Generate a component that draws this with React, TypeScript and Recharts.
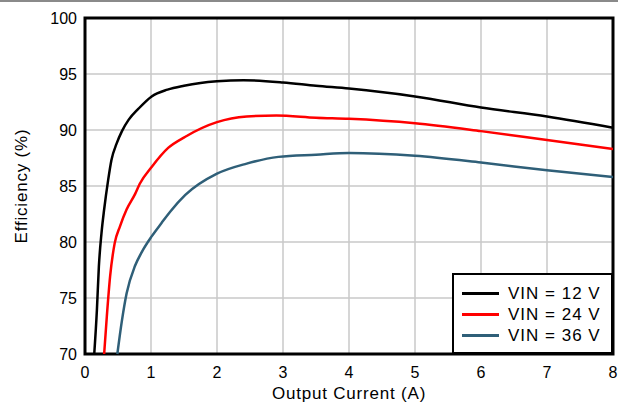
import {
  LineChart,
  Line,
  XAxis,
  YAxis,
  CartesianGrid,
  ReferenceArea,
  Legend,
} from "recharts";

const X_TICKS = [0, 1, 2, 3, 4, 5, 6, 7, 8];
const Y_TICKS = [70, 75, 80, 85, 90, 95, 100];

// VIN = 12 V
const cur12 = [0.14, 0.18, 0.21, 0.25, 0.29, 0.35, 0.4, 0.48, 0.56, 0.66, 0.81, 1.01, 1.25, 1.5, 1.75, 2.0, 2.4, 3.0, 3.5, 4, 5, 6, 7, 8];
const eff12 = [70, 73.9, 77.8, 80.8, 82.9, 85.5, 87.3, 88.8, 89.9, 90.9, 91.9, 93.0, 93.6, 93.95, 94.2, 94.35, 94.45, 94.25, 93.95, 93.7, 93.0, 92.0, 91.2, 90.2];

// VIN = 24 V
const cur24 = [0.29, 0.33, 0.38, 0.45, 0.53, 0.63, 0.76, 0.83, 1.01, 1.26, 1.52, 2.0, 2.45, 2.9, 3.5, 4, 5, 6, 7, 8];
const eff24 = [70, 73.3, 76.9, 79.9, 81.4, 82.9, 84.3, 85.2, 86.7, 88.4, 89.4, 90.7, 91.2, 91.3, 91.1, 91.0, 90.6, 89.9, 89.1, 88.3];

// VIN = 36 V
const cur36 = [0.49, 0.56, 0.63, 0.76, 0.86, 1.01, 1.16, 1.29, 1.52, 2.0, 2.45, 2.93, 3.5, 4, 5, 6, 7, 8];
const eff36 = [70, 73.0, 75.4, 77.9, 79.1, 80.5, 81.7, 82.7, 84.2, 86.1, 87.0, 87.6, 87.8, 87.95, 87.7, 87.1, 86.4, 85.8];

const SERIES = [
  { name: "VIN = 12 V", color: "#000000", x: cur12, y: eff12 },
  { name: "VIN = 24 V", color: "#ff0000", x: cur24, y: eff24 },
  { name: "VIN = 36 V", color: "#2f5f78", x: cur36, y: eff36 },
];

const FONT = "Arial, 'Liberation Sans', sans-serif";

const LegendBox = ({ payload }: any) => (
  <div
    style={{
      boxSizing: "border-box",
      width: 161,
      height: 81,
      border: "2px solid #000",
      background: "#fff",
      padding: "8px 0 0 8px",
      fontFamily: FONT,
      fontSize: 17,
      letterSpacing: 1,
      color: "#000",
    }}
  >
    {(payload || []).map((p: any) => (
      <div key={p.value} style={{ display: "flex", alignItems: "center", height: 21 }}>
        <span style={{ width: 37, height: 3, background: p.color, marginRight: 9 }} />
        <span>{p.value}</span>
      </div>
    ))}
  </div>
);

export default function App() {
  return (
    <div style={{ position: "absolute", left: 0, top: 0, width: 618, height: 403, background: "#fff" }}>
      <div style={{ position: "absolute", left: 0, top: 0, width: 618, height: 2, background: "#8a8a8a" }} />
      <LineChart
        width={618}
        height={403}
        margin={{ top: 18, right: 5, bottom: 0, left: 0 }}
        style={{ fontFamily: FONT }}
      >
        <CartesianGrid stroke="#c8c8c8" strokeWidth={1.5} />
        <XAxis
          type="number"
          dataKey="x"
          domain={[0, 8]}
          ticks={X_TICKS}
          allowDuplicatedCategory={false}
          height={49}
          axisLine={false}
          tickLine={false}
          tickSize={0}
          tickMargin={13}
          tick={{ fill: "#000", fontSize: 16 }}
          label={{
            value: "Output Current (A)",
            position: "insideBottom",
            offset: 4,
            fill: "#000",
            fontSize: 17,
            style: { letterSpacing: 0.8 },
          }}
        />
        <YAxis
          type="number"
          domain={[70, 100]}
          ticks={Y_TICKS}
          width={85}
          axisLine={false}
          tickLine={false}
          tickSize={0}
          tickMargin={8}
          tick={{ fill: "#000", fontSize: 16 }}
          label={{
            value: "Efficiency (%)",
            angle: -90,
            position: "insideLeft",
            offset: 21,
            fill: "#000",
            fontSize: 17,
            style: { textAnchor: "middle", letterSpacing: 0.8 },
          }}
        />
        <ReferenceArea x1={0} x2={8} y1={70} y2={100} fill="none" stroke="#000" strokeWidth={3} />
        {SERIES.map((s) => (
          <Line
            key={s.name}
            name={s.name}
            data={s.x.map((x, i) => ({ x, y: s.y[i] }))}
            dataKey="y"
            type="monotone"
            stroke={s.color}
            strokeWidth={2.5}
            dot={false}
            activeDot={false}
            isAnimationActive={false}
          />
        ))}
        <Legend
          layout="vertical"
          align="center"
          verticalAlign="middle"
          wrapperStyle={{ left: 452, top: 273, width: 161, height: 81 }}
          content={<LegendBox />}
        />
      </LineChart>
    </div>
  );
}
